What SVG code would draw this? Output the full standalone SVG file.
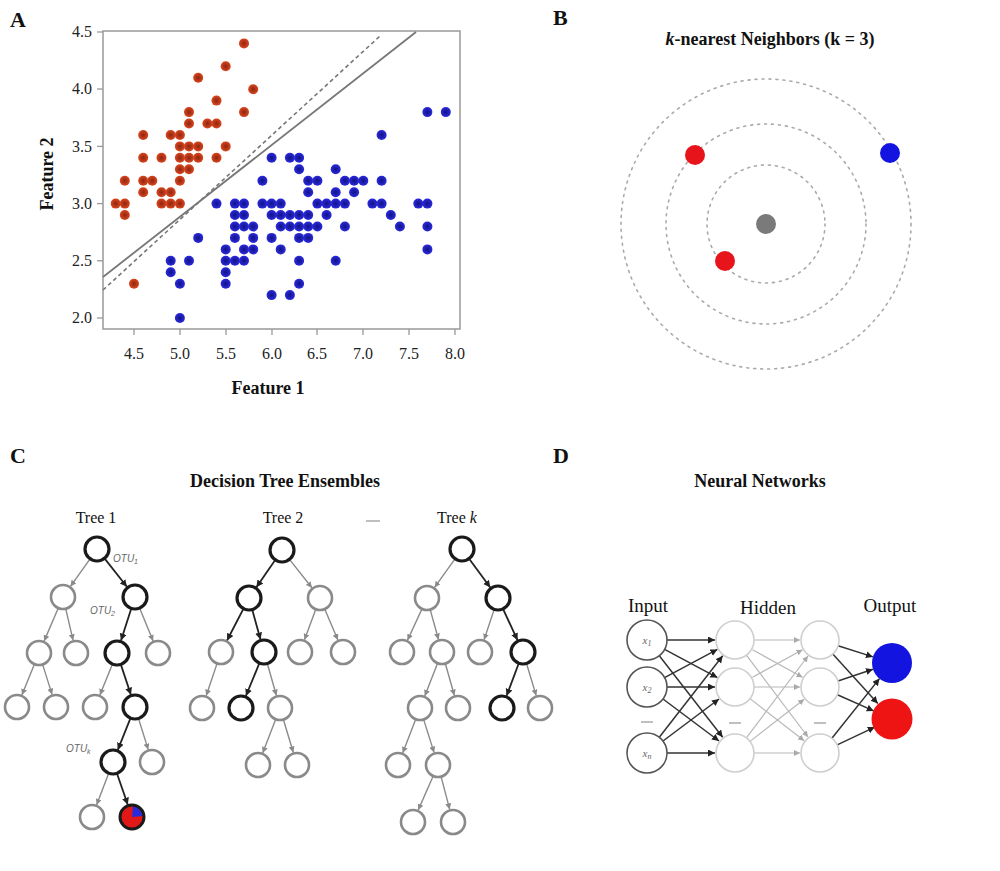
<svg xmlns="http://www.w3.org/2000/svg" width="1000" height="871" viewBox="0 0 1000 871">
<style>
.lbl{font-family:"Liberation Serif",serif;font-weight:bold;font-size:22px;fill:#111}
.ttl{font-family:"Liberation Serif",serif;font-weight:bold;font-size:18px;fill:#111;text-anchor:middle}
.tick{font-family:"Liberation Serif",serif;font-size:16px;fill:#222}
.ax{font-family:"Liberation Serif",serif;font-weight:bold;font-size:18px;fill:#111;text-anchor:middle}
.r{fill:url(#gr)}
.b{fill:url(#gb)}
.ring{fill:none;stroke:#aaa;stroke-width:1.6;stroke-dasharray:2 5;stroke-linecap:round}
.tn{fill:#fff;stroke:#8a8a8a;stroke-width:2.6}
.tk{fill:#fff;stroke:#1a1a1a;stroke-width:3.2}
.eg{stroke:#8a8a8a;stroke-width:1.4;fill:none;marker-end:url(#ag)}
.ek{stroke:#222;stroke-width:1.8;fill:none;marker-end:url(#ak)}
.tl{font-family:"Liberation Serif",serif;font-size:16px;fill:#111;text-anchor:middle}
.otu{font-family:"Liberation Sans",sans-serif;font-style:italic;font-size:10px;fill:#666}
.nl{font-family:"Liberation Serif",serif;font-size:19px;fill:#111;text-anchor:middle}
.inp{fill:#fff;stroke:#555;stroke-width:1.6}
.hid{fill:#fff;stroke:#cfcfcf;stroke-width:1.6}
.xi{font-family:"Liberation Serif",serif;font-style:italic;font-size:11px;fill:#666;text-anchor:middle}
.nk{stroke:#333;stroke-width:1.5;marker-end:url(#ak)}
.ngr{stroke:#b8b8b8;stroke-width:1.2;marker-end:url(#ag2)}
.dash{stroke:#aaa;stroke-width:1.5}
</style>
<defs>
<radialGradient id="gr"><stop offset="0" stop-color="#8e2510"/><stop offset="1" stop-color="#d9461f"/></radialGradient>
<radialGradient id="gb"><stop offset="0" stop-color="#121282"/><stop offset="1" stop-color="#2a2ae0"/></radialGradient>
<marker id="ag" markerWidth="7" markerHeight="7" refX="6" refY="3" orient="auto" markerUnits="userSpaceOnUse"><path d="M0,0 L6,3 L0,6 z" fill="#8a8a8a"/></marker>
<marker id="ak" markerWidth="8" markerHeight="8" refX="7" refY="3.5" orient="auto" markerUnits="userSpaceOnUse"><path d="M0,0 L7,3.5 L0,7 z" fill="#222"/></marker>
<marker id="ag2" markerWidth="7" markerHeight="7" refX="6" refY="3" orient="auto" markerUnits="userSpaceOnUse"><path d="M0,0 L6,3 L0,6 z" fill="#aaa"/></marker>
</defs>
<rect width="1000" height="871" fill="#fff"/>

<!-- Panel labels -->
<text class="lbl" x="10" y="27">A</text>
<text class="lbl" x="553" y="25">B</text>
<text class="lbl" x="10" y="463">C</text>
<text class="lbl" x="553" y="463">D</text>

<!-- Panel A -->
<g id="panelA">
<rect x="103" y="31" width="357" height="298" fill="none" stroke="#999" stroke-width="1.5"/>
<g stroke="#999" stroke-width="1.3">
<line x1="97" y1="32" x2="103" y2="32"/><line x1="97" y1="89" x2="103" y2="89"/><line x1="97" y1="146.4" x2="103" y2="146.4"/><line x1="97" y1="203.6" x2="103" y2="203.6"/><line x1="97" y1="260.8" x2="103" y2="260.8"/><line x1="97" y1="318" x2="103" y2="318"/>
<line x1="134" y1="329" x2="134" y2="335"/><line x1="180" y1="329" x2="180" y2="335"/><line x1="226" y1="329" x2="226" y2="335"/><line x1="272" y1="329" x2="272" y2="335"/><line x1="317" y1="329" x2="317" y2="335"/><line x1="363" y1="329" x2="363" y2="335"/><line x1="409" y1="329" x2="409" y2="335"/><line x1="455" y1="329" x2="455" y2="335"/>
</g>
<g class="tick" text-anchor="end">
<text x="92" y="37">4.5</text><text x="92" y="94">4.0</text><text x="92" y="152">3.5</text><text x="92" y="209">3.0</text><text x="92" y="266">2.5</text><text x="92" y="323">2.0</text>
</g>
<g class="tick" text-anchor="middle">
<text x="134" y="359">4.5</text><text x="180" y="359">5.0</text><text x="226" y="359">5.5</text><text x="272" y="359">6.0</text><text x="317" y="359">6.5</text><text x="363" y="359">7.0</text><text x="409" y="359">7.5</text><text x="455" y="359">8.0</text>
</g>
<text class="ax" x="268" y="394">Feature 1</text>
<text class="ax" transform="translate(53,174) rotate(-90)">Feature 2</text>
<line x1="103" y1="290" x2="380" y2="36" stroke="#777" stroke-width="1.6" stroke-dasharray="4 3"/>
<line x1="103" y1="277" x2="416" y2="32" stroke="#777" stroke-width="1.8"/>
<g id="redpts">
<circle class="r" cx="189.0" cy="146.4" r="5"/><circle class="r" cx="170.7" cy="203.6" r="5"/><circle class="r" cx="152.3" cy="180.7" r="5"/><circle class="r" cx="143.2" cy="192.2" r="5"/><circle class="r" cx="179.9" cy="135.0" r="5"/><circle class="r" cx="216.5" cy="100.6" r="5"/><circle class="r" cx="143.2" cy="157.8" r="5"/><circle class="r" cx="179.9" cy="157.8" r="5"/><circle class="r" cx="124.8" cy="215.0" r="5"/><circle class="r" cx="170.7" cy="192.2" r="5"/><circle class="r" cx="216.5" cy="123.5" r="5"/><circle class="r" cx="161.5" cy="157.8" r="5"/><circle class="r" cx="161.5" cy="203.6" r="5"/><circle class="r" cx="115.7" cy="203.6" r="5"/><circle class="r" cx="253.2" cy="89.2" r="5"/><circle class="r" cx="244.0" cy="43.4" r="5"/><circle class="r" cx="244.0" cy="112.1" r="5"/><circle class="r" cx="189.0" cy="112.1" r="5"/><circle class="r" cx="216.5" cy="157.8" r="5"/><circle class="r" cx="189.0" cy="123.5" r="5"/><circle class="r" cx="143.2" cy="135.0" r="5"/><circle class="r" cx="189.0" cy="169.3" r="5"/><circle class="r" cx="179.9" cy="203.6" r="5"/><circle class="r" cx="198.2" cy="146.4" r="5"/><circle class="r" cx="198.2" cy="157.8" r="5"/><circle class="r" cx="161.5" cy="192.2" r="5"/><circle class="r" cx="198.2" cy="77.8" r="5"/><circle class="r" cx="225.7" cy="66.3" r="5"/><circle class="r" cx="179.9" cy="180.7" r="5"/><circle class="r" cx="225.7" cy="146.4" r="5"/><circle class="r" cx="170.7" cy="135.0" r="5"/><circle class="r" cx="124.8" cy="203.6" r="5"/><circle class="r" cx="189.0" cy="157.8" r="5"/><circle class="r" cx="179.9" cy="146.4" r="5"/><circle class="r" cx="134.0" cy="283.7" r="5"/><circle class="r" cx="124.8" cy="180.7" r="5"/><circle class="r" cx="143.2" cy="180.7" r="5"/><circle class="r" cx="207.4" cy="123.5" r="5"/><circle class="r" cx="179.9" cy="169.3" r="5"/>
</g>
<g id="bluepts">
<circle class="b" cx="363.3" cy="180.7" r="5"/><circle class="b" cx="308.2" cy="180.7" r="5"/><circle class="b" cx="354.1" cy="192.2" r="5"/><circle class="b" cx="225.7" cy="283.7" r="5"/><circle class="b" cx="317.4" cy="226.5" r="5"/><circle class="b" cx="244.0" cy="226.5" r="5"/><circle class="b" cx="299.1" cy="169.3" r="5"/><circle class="b" cx="170.7" cy="272.2" r="5"/><circle class="b" cx="326.6" cy="215.0" r="5"/><circle class="b" cx="198.2" cy="237.9" r="5"/><circle class="b" cx="179.9" cy="318.0" r="5"/><circle class="b" cx="262.4" cy="203.6" r="5"/><circle class="b" cx="271.6" cy="295.1" r="5"/><circle class="b" cx="280.7" cy="215.0" r="5"/><circle class="b" cx="234.9" cy="215.0" r="5"/><circle class="b" cx="335.7" cy="192.2" r="5"/><circle class="b" cx="234.9" cy="203.6" r="5"/><circle class="b" cx="253.2" cy="237.9" r="5"/><circle class="b" cx="289.9" cy="295.1" r="5"/><circle class="b" cx="234.9" cy="260.8" r="5"/><circle class="b" cx="262.4" cy="180.7" r="5"/><circle class="b" cx="280.7" cy="226.5" r="5"/><circle class="b" cx="299.1" cy="260.8" r="5"/><circle class="b" cx="308.2" cy="215.0" r="5"/><circle class="b" cx="326.6" cy="203.6" r="5"/><circle class="b" cx="344.9" cy="226.5" r="5"/><circle class="b" cx="335.7" cy="203.6" r="5"/><circle class="b" cx="271.6" cy="215.0" r="5"/><circle class="b" cx="244.0" cy="249.4" r="5"/><circle class="b" cx="225.7" cy="272.2" r="5"/><circle class="b" cx="271.6" cy="237.9" r="5"/><circle class="b" cx="216.5" cy="203.6" r="5"/><circle class="b" cx="271.6" cy="157.8" r="5"/><circle class="b" cx="299.1" cy="283.7" r="5"/><circle class="b" cx="225.7" cy="260.8" r="5"/><circle class="b" cx="225.7" cy="249.4" r="5"/><circle class="b" cx="280.7" cy="203.6" r="5"/><circle class="b" cx="253.2" cy="249.4" r="5"/><circle class="b" cx="179.9" cy="283.7" r="5"/><circle class="b" cx="234.9" cy="237.9" r="5"/><circle class="b" cx="244.0" cy="203.6" r="5"/><circle class="b" cx="244.0" cy="215.0" r="5"/><circle class="b" cx="289.9" cy="215.0" r="5"/><circle class="b" cx="189.0" cy="260.8" r="5"/><circle class="b" cx="372.4" cy="203.6" r="5"/><circle class="b" cx="299.1" cy="215.0" r="5"/><circle class="b" cx="317.4" cy="203.6" r="5"/><circle class="b" cx="418.3" cy="203.6" r="5"/><circle class="b" cx="170.7" cy="260.8" r="5"/><circle class="b" cx="390.8" cy="215.0" r="5"/><circle class="b" cx="335.7" cy="260.8" r="5"/><circle class="b" cx="381.6" cy="135.0" r="5"/><circle class="b" cx="317.4" cy="180.7" r="5"/><circle class="b" cx="308.2" cy="237.9" r="5"/><circle class="b" cx="344.9" cy="203.6" r="5"/><circle class="b" cx="244.0" cy="260.8" r="5"/><circle class="b" cx="253.2" cy="226.5" r="5"/><circle class="b" cx="427.4" cy="112.1" r="5"/><circle class="b" cx="427.4" cy="249.4" r="5"/><circle class="b" cx="354.1" cy="180.7" r="5"/><circle class="b" cx="234.9" cy="226.5" r="5"/><circle class="b" cx="427.4" cy="226.5" r="5"/><circle class="b" cx="299.1" cy="237.9" r="5"/><circle class="b" cx="335.7" cy="169.3" r="5"/><circle class="b" cx="381.6" cy="180.7" r="5"/><circle class="b" cx="289.9" cy="226.5" r="5"/><circle class="b" cx="308.2" cy="226.5" r="5"/><circle class="b" cx="381.6" cy="203.6" r="5"/><circle class="b" cx="399.9" cy="226.5" r="5"/><circle class="b" cx="445.8" cy="112.1" r="5"/><circle class="b" cx="299.1" cy="226.5" r="5"/><circle class="b" cx="280.7" cy="249.4" r="5"/><circle class="b" cx="427.4" cy="203.6" r="5"/><circle class="b" cx="299.1" cy="157.8" r="5"/><circle class="b" cx="308.2" cy="192.2" r="5"/><circle class="b" cx="271.6" cy="203.6" r="5"/><circle class="b" cx="289.9" cy="157.8" r="5"/><circle class="b" cx="344.9" cy="180.7" r="5"/>
</g>
</g>

<!-- Panel B -->
<g id="panelB">
<text class="ttl" x="770" y="45"><tspan font-style="italic">k</tspan>-nearest Neighbors (k = 3)</text>
<circle class="ring" cx="766" cy="224" r="59"/>
<circle class="ring" cx="766" cy="224" r="100"/>
<circle class="ring" cx="766" cy="224" r="145"/>
<circle cx="695" cy="155" r="10" fill="#e8141c"/>
<circle cx="890" cy="153" r="10" fill="#1414e0"/>
<circle cx="725" cy="261" r="10" fill="#e8141c"/>
<circle cx="766" cy="224" r="10" fill="#7a7a7a"/>
</g>

<!-- Panel C -->
<text class="ttl" x="285" y="487">Decision Tree Ensembles</text>
<text class="tl" x="96" y="523">Tree 1</text>
<text class="tl" x="283" y="523">Tree 2</text>
<text class="tl" x="457" y="523">Tree <tspan font-style="italic">k</tspan></text>
<line class="dash" x1="366" y1="521" x2="380" y2="521"/>

<g id="connectors">
<!-- Tree 1 -->
<line class="eg" x1="90.1" y1="558.8" x2="70.5" y2="586.4"/>
<line class="ek" x1="104.5" y1="558.4" x2="126.9" y2="586.8"/>
<line class="eg" x1="58.3" y1="608" x2="44.1" y2="641.1"/>
<line class="eg" x1="65.7" y1="608.7" x2="73.1" y2="640.3"/>
<line class="ek" x1="131.3" y1="608.4" x2="121" y2="640.6"/>
<line class="eg" x1="139.6" y1="608.1" x2="153.1" y2="641"/>
<line class="eg" x1="34.5" y1="664.1" x2="21.9" y2="695"/>
<line class="eg" x1="42.6" y1="664.4" x2="52.1" y2="694.6"/>
<line class="eg" x1="112.5" y1="664.1" x2="99.9" y2="695"/>
<line class="ek" x1="120.8" y1="664.4" x2="130.9" y2="694.7"/>
<line class="ek" x1="130.5" y1="718.1" x2="117.8" y2="749.9"/>
<line class="eg" x1="138.5" y1="718.5" x2="148.2" y2="749.6"/>
<line class="eg" x1="108.7" y1="773.2" x2="96.6" y2="804.9"/>
<line class="ek" x1="116.9" y1="773.3" x2="127.8" y2="804.7"/>
<!-- Tree 2 -->
<line class="ek" x1="275.2" y1="559.9" x2="256.4" y2="587.3"/>
<line class="eg" x1="289.5" y1="559.4" x2="311.9" y2="587.8"/>
<line class="ek" x1="243.5" y1="608.7" x2="227" y2="640.5" stroke="#444"/>
<line class="ek" x1="252.2" y1="609.6" x2="260.5" y2="639.5"/>
<line class="eg" x1="315.8" y1="609.3" x2="304.5" y2="639.8"/>
<line class="eg" x1="324.7" y1="609" x2="337.9" y2="640"/>
<line class="eg" x1="217.1" y1="663.4" x2="206.2" y2="695.7"/>
<line class="ek" x1="259.4" y1="663.1" x2="245.9" y2="696"/>
<line class="eg" x1="267.3" y1="663.5" x2="276.4" y2="695.5"/>
<line class="eg" x1="275.7" y1="719.2" x2="262.7" y2="752.9"/>
<line class="eg" x1="283.4" y1="719.5" x2="293.3" y2="752.5"/>
<!-- Tree k -->
<line class="eg" x1="455" y1="558.8" x2="434.6" y2="587.4"/>
<line class="ek" x1="469.1" y1="558.7" x2="490.3" y2="587.5"/>
<line class="eg" x1="422" y1="608.9" x2="407.5" y2="640.2"/>
<line class="eg" x1="430.2" y1="609.6" x2="438.5" y2="639.5"/>
<line class="eg" x1="494.2" y1="609.4" x2="484.1" y2="639.7"/>
<line class="ek" x1="503" y1="608.9" x2="517.5" y2="640.2"/>
<line class="eg" x1="437.6" y1="663.2" x2="424.8" y2="695.9"/>
<line class="eg" x1="445.3" y1="663.5" x2="454.4" y2="695.5"/>
<line class="ek" x1="518.8" y1="663.2" x2="506.6" y2="695.8"/>
<line class="eg" x1="526.5" y1="663.5" x2="536.2" y2="695.6"/>
<line class="eg" x1="415.7" y1="719.2" x2="402.7" y2="752.9"/>
<line class="eg" x1="423.6" y1="719.4" x2="434.1" y2="752.6"/>
<line class="eg" x1="433.2" y1="776" x2="418.2" y2="810.1"/>
<line class="eg" x1="441.1" y1="776.6" x2="449.7" y2="809.4"/>
<!-- Neural net: input to hidden -->
<line class="nk" x1="667" y1="640" x2="715" y2="640"/>
<line class="nk" x1="664.6" y1="649.4" x2="717.4" y2="677.6"/>
<line class="nk" x1="659.3" y1="655.8" x2="722.7" y2="737.2"/>
<line class="nk" x1="664.6" y1="677.6" x2="717.4" y2="649.4"/>
<line class="nk" x1="667" y1="687" x2="715" y2="687"/>
<line class="nk" x1="663" y1="699" x2="719" y2="741"/>
<line class="nk" x1="659.3" y1="737.2" x2="722.7" y2="655.8"/>
<line class="nk" x1="663" y1="741" x2="719" y2="699"/>
<line class="nk" x1="667" y1="753" x2="715" y2="753"/>
<!-- hidden to hidden -->
<line class="ngr" x1="754" y1="640" x2="800" y2="640"/>
<line class="ngr" x1="752.5" y1="649.7" x2="802.5" y2="677.3"/>
<line class="ngr" x1="746.4" y1="655.2" x2="808" y2="737"/>
<line class="ngr" x1="752.5" y1="677.3" x2="802.5" y2="649.7"/>
<line class="ngr" x1="754" y1="687" x2="800" y2="687"/>
<line class="ngr" x1="750" y1="698.6" x2="804.2" y2="740.7"/>
<line class="ngr" x1="746.4" y1="737.8" x2="808" y2="656"/>
<line class="ngr" x1="750" y1="741.4" x2="804.2" y2="699.3"/>
<line class="ngr" x1="754" y1="753" x2="800" y2="753"/>
<!-- hidden to output -->
<line class="nk" x1="838.1" y1="645.8" x2="873" y2="656.9"/>
<line class="nk" x1="832.8" y1="654" x2="877.8" y2="703.5"/>
<line class="nk" x1="838" y1="681" x2="873" y2="669.3"/>
<line class="nk" x1="837.4" y1="694.7" x2="873.7" y2="710.9"/>
<line class="nk" x1="831.9" y1="738.2" x2="879.5" y2="678.6"/>
<line class="nk" x1="837.2" y1="744.9" x2="874.8" y2="727.1"/>
</g>

<g id="tree1">
<circle class="tk" cx="97" cy="549" r="12"/>
<circle class="tn" cx="63" cy="597" r="12"/>
<circle class="tk" cx="135" cy="597" r="12"/>
<circle class="tn" cx="39" cy="653" r="12"/>
<circle class="tn" cx="76" cy="653" r="12"/>
<circle class="tk" cx="117" cy="653" r="12"/>
<circle class="tn" cx="158" cy="653" r="12"/>
<circle class="tn" cx="17" cy="707" r="12"/>
<circle class="tn" cx="56" cy="707" r="12"/>
<circle class="tn" cx="95" cy="707" r="12"/>
<circle class="tk" cx="135" cy="707" r="12"/>
<circle class="tk" cx="113" cy="762" r="12"/>
<circle class="tn" cx="152" cy="762" r="12"/>
<circle class="tn" cx="92" cy="817" r="12"/>
<circle cx="132" cy="817" r="12" fill="#e01818"/>
<path d="M132,817 L133,806 A11,11 0 0 1 143,816 Z" fill="#2a2ad8"/>
<circle cx="132" cy="817" r="12" fill="none" stroke="#1a1a1a" stroke-width="3"/>
<text class="otu" x="113" y="562">OTU<tspan font-size="7" dy="2">1</tspan></text>
<text class="otu" x="90" y="614">OTU<tspan font-size="7" dy="2">2</tspan></text>
<text class="otu" x="66" y="752">OTU<tspan font-size="7" dy="2">k</tspan></text>
</g>

<g id="tree2">
<circle class="tk" cx="282" cy="550" r="12"/>
<circle class="tk" cx="249" cy="598" r="12"/>
<circle class="tn" cx="320" cy="598" r="12"/>
<circle class="tn" cx="221" cy="652" r="12"/>
<circle class="tk" cx="264" cy="652" r="12"/>
<circle class="tn" cx="300" cy="652" r="12"/>
<circle class="tn" cx="343" cy="652" r="12"/>
<circle class="tn" cx="202" cy="708" r="12"/>
<circle class="tk" cx="241" cy="708" r="12"/>
<circle class="tn" cx="280" cy="708" r="12"/>
<circle class="tn" cx="258" cy="765" r="12"/>
<circle class="tn" cx="297" cy="765" r="12"/>
</g>

<g id="treek">
<circle class="tk" cx="462" cy="549" r="12"/>
<circle class="tn" cx="427" cy="598" r="12"/>
<circle class="tk" cx="498" cy="598" r="12"/>
<circle class="tn" cx="402" cy="652" r="12"/>
<circle class="tn" cx="442" cy="652" r="12"/>
<circle class="tn" cx="480" cy="652" r="12"/>
<circle class="tk" cx="523" cy="652" r="12"/>
<circle class="tn" cx="420" cy="708" r="12"/>
<circle class="tn" cx="458" cy="708" r="12"/>
<circle class="tk" cx="502" cy="708" r="12"/>
<circle class="tn" cx="540" cy="708" r="12"/>
<circle class="tn" cx="398" cy="765" r="12"/>
<circle class="tn" cx="438" cy="765" r="12"/>
<circle class="tn" cx="413" cy="822" r="12"/>
<circle class="tn" cx="453" cy="822" r="12"/>
</g>

<!-- Panel D -->
<text class="ttl" x="760" y="487">Neural Networks</text>
<text class="nl" x="648" y="612">Input</text>
<text class="nl" x="768" y="614">Hidden</text>
<text class="nl" x="890" y="612">Output</text>
<g id="inputLayer">
<circle class="inp" cx="647" cy="640" r="20"/>
<circle class="inp" cx="647" cy="687" r="20"/>
<circle class="inp" cx="647" cy="753" r="20"/>
<text class="xi" x="647" y="644">x<tspan font-size="8" dy="2">1</tspan></text>
<text class="xi" x="647" y="691">x<tspan font-size="8" dy="2">2</tspan></text>
<text class="xi" x="647" y="757">x<tspan font-size="8" dy="2">n</tspan></text>
<line class="dash" x1="641" y1="722" x2="653" y2="722"/>
</g>
<g id="hidden1">
<circle class="hid" cx="735" cy="640" r="19"/>
<circle class="hid" cx="735" cy="687" r="19"/>
<circle class="hid" cx="735" cy="753" r="19"/>
<line class="dash" x1="729" y1="723" x2="741" y2="723"/>
</g>
<g id="hidden2">
<circle class="hid" cx="820" cy="640" r="19"/>
<circle class="hid" cx="820" cy="687" r="19"/>
<circle class="hid" cx="820" cy="753" r="19"/>
<line class="dash" x1="814" y1="723" x2="826" y2="723"/>
</g>
<g id="outputLayer">
<circle cx="892" cy="663" r="20" fill="#1414e0"/>
<circle cx="892" cy="719" r="20.5" fill="#ee1414"/>
</g>
</svg>
